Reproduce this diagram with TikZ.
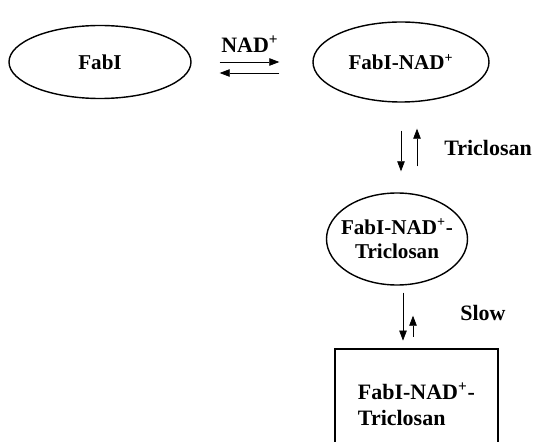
\documentclass[tikz,border=0pt]{standalone}
\usepackage{fontspec}
\setmainfont{Liberation Serif}
\usepackage{tikz}
\usetikzlibrary{arrows.meta,shapes.geometric}
\tikzset{
  fbell/.style={draw, ellipse, line width=0.8pt, inner sep=0pt, align=center,
    font=\fontsize{12}{14}\selectfont\bfseries},
  fbbox/.style={draw, rectangle, line width=1.6pt, inner sep=0pt, align=left,
    font=\fontsize{12.5}{15}\selectfont\bfseries},
  fblabel/.style={font=\fontsize{12.5}{14}\selectfont\bfseries},
  fbarrow/.style={-{Triangle[length=2mm,width=1.5mm]}, line width=0.4pt}
}
\begin{document}
\begin{tikzpicture}
  \useasboundingbox (0,0) rectangle (10.8,-8.84);
  \clip (0,0) rectangle (10.8,-8.84);
  \node[fbell, minimum width=3.64cm, minimum height=1.46cm] (fabI) at (2.00cm,-1.24cm) {FabI};
  \node[fbell, minimum width=3.52cm, minimum height=1.60cm] (fabINAD) at (8.02cm,-1.24cm) {FabI-NAD\textsuperscript{+}};
  \node[fbell, inner xsep=-0.2cm, minimum width=2.82cm, minimum height=1.84cm] (fabITric) at (7.94cm,-4.78cm) {FabI-NAD\textsuperscript{+}-\\Triclosan};
  \node[fbbox, minimum width=3.26cm, minimum height=2.22cm] (fabITricSlow) at (8.33cm,-8.09cm) {FabI-NAD\textsuperscript{+}-\\Triclosan};
  \node[fblabel] (lNAD) at (5.00cm,-0.88cm) {NAD\textsuperscript{+}};
  \node[fblabel] (lTric) at (9.76cm,-2.96cm) {Triclosan};
  \node[fblabel] (lSlow) at (9.66cm,-6.26cm) {Slow};
  % NAD+ binding
  \draw[fbarrow, shorten <=0.56cm, shorten >=0.66cm] (fabI.east) -- (fabINAD.west);
  \draw[fbarrow, shorten <=0.66cm, shorten >=0.56cm] ([yshift=-0.22cm]fabINAD.west) -- ([yshift=-0.22cm]fabI.east);
  % triclosan binding
  \draw[fbarrow, shorten <=0.56cm, shorten >=0.42cm] (fabINAD.south) -- (fabINAD.south |- fabITric.north);
  \draw[fbarrow, shorten <=0.52cm, shorten >=0.52cm] ([xshift=0.32cm]fabINAD.south |- fabITric.north) -- ([xshift=0.32cm]fabINAD.south);
  % slow step
  \draw[fbarrow, shorten <=0.14cm, shorten >=0.14cm] ([xshift=0.12cm]fabITric.south) -- ([xshift=0.12cm]fabITric.south |- fabITricSlow.north);
  \draw[fbarrow, shorten <=0.22cm, shorten >=0.60cm] ([xshift=0.32cm]fabITric.south |- fabITricSlow.north) -- ([xshift=0.32cm]fabITric.south);
\end{tikzpicture}
\end{document}
